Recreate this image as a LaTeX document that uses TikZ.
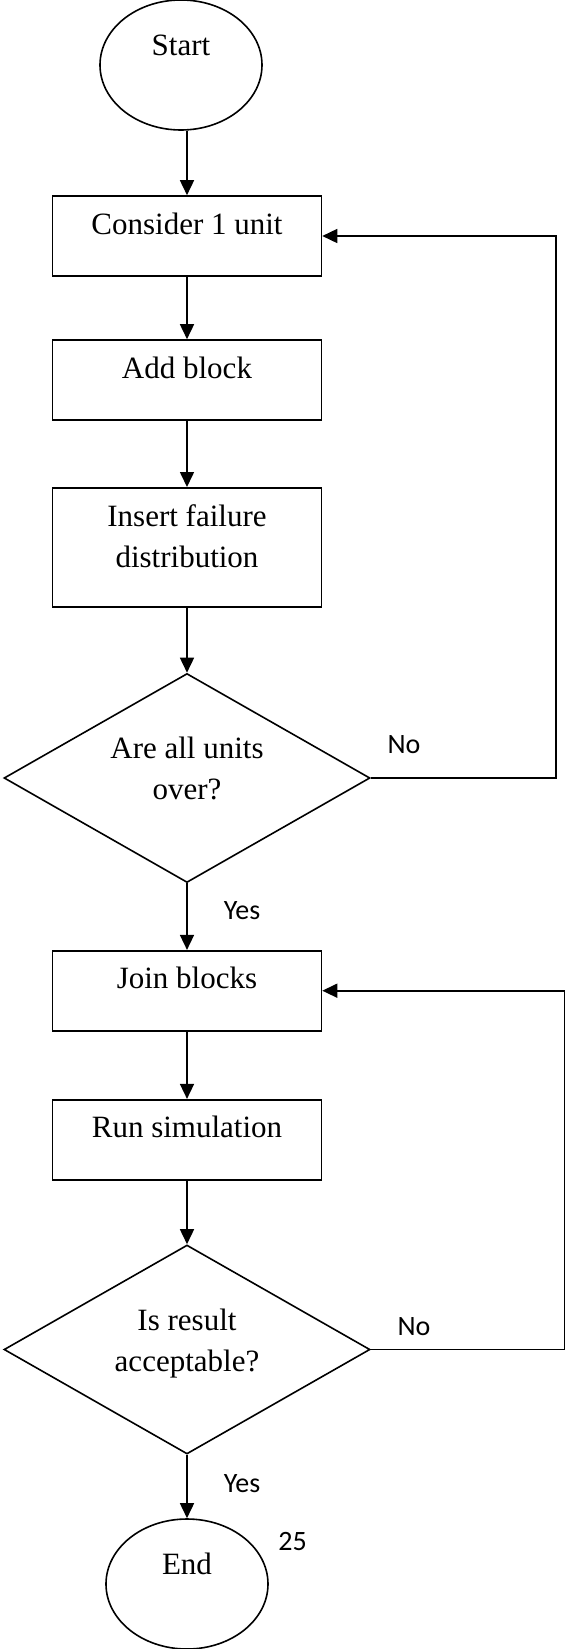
\documentclass[tikz,border=0pt]{standalone}
\usepackage{fontspec}
\setmainfont{Liberation Serif}
\newfontfamily\lblfont{Carlito}
\usetikzlibrary{shapes.geometric,arrows.meta}

\begin{document}
\begin{tikzpicture}[node distance=72pt, line width=0.8pt, >={Triangle[length=7.5pt,width=7pt]},
        font=\fontsize{15.5pt}{20.5pt}\selectfont,
        blockbox/.style={draw, rectangle, minimum width=134.5pt, inner ysep=0pt, text height=19pt, text depth=21pt, align=center},
        termbox/.style={draw, ellipse, minimum width=81pt, minimum height=65pt, text height=10.5pt, text depth=20pt},
        decbox/.style={draw, diamond, shape aspect=1.75, minimum width=183pt, minimum height=104.5pt, inner sep=1pt, text height=31pt, text depth=9.5pt, align=center},
        lbl/.style={font=\lblfont\fontsize{14pt}{17pt}\selectfont, anchor=base west, inner sep=0pt}]
        \useasboundingbox (0,0) rectangle (283pt,-824.5pt);
        \node[termbox] (start) at (90.5pt,-32.5pt) {Start};
        \node[blockbox, below of=start, node distance=85.5pt, xshift=3pt] (unit) {Consider 1 unit};
        \node[blockbox, below of=unit] (add) {Add block};
        % two lines: the box baseline is the last one
        \node[blockbox, below of=add, node distance=83.75pt, text height=40pt, text depth=19.7pt] (fail) {Insert failure\\distribution};
        \node[decbox, below of=fail, node distance=115.25pt] (allunits) {Are all units\\over?};
        \node[blockbox, below of=allunits, node distance=106.35pt] (join) {Join blocks};
        \node[blockbox, below of=join, node distance=74.5pt] (sim) {Run simulation};
        \node[decbox, below of=sim, node distance=104.9pt] (accept) {Is result\\acceptable?};
        \node[termbox, below of=accept, node distance=117.25pt] (end) {End};
        \node[lbl] (pagenum) at ([xshift=4.4pt, yshift=17pt]end.east) {25};
        \draw[->] (start.south -| unit) -- (unit);
        \draw[->] (unit) -- (add);
        \draw[->] (add) -- (fail);
        \draw[->] (fail) -- (allunits);
        \draw[->] (allunits.east) -- node[lbl, at start, xshift=8pt, yshift=12.5pt] {No} ++(92.5pt,0) |- (unit.east);
        \draw[->] (allunits) -- node[lbl, at start, xshift=18pt, yshift=-18pt] {Yes} (join);
        \draw[->] (join) -- (sim);
        \draw[->] (sim) -- (accept);
        \draw[->] (accept.east) -- node[lbl, at start, xshift=13pt, yshift=7pt] {No} ++(96.75pt,0) |- (join.east);
        \draw[->] (accept) -- node[lbl, at start, xshift=18pt, yshift=-19pt] {Yes} (end);
    \end{tikzpicture}
\end{document}
